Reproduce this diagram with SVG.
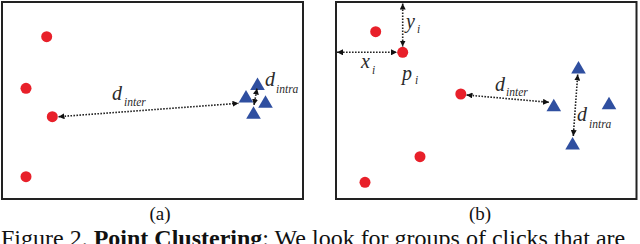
<svg xmlns="http://www.w3.org/2000/svg" width="640" height="244" viewBox="0 0 640 244">
<defs>
<marker id="ah" viewBox="0 0 10 10" refX="10" refY="5" markerWidth="6" markerHeight="6" markerUnits="userSpaceOnUse" orient="auto-start-reverse">
<path d="M0,0 L10,5 L0,10 Z" fill="#111"/>
</marker>
<style>
.frame{fill:#fff;stroke:#222;stroke-width:2}
.dot{fill:#e8202a}
.tri{fill:#2f4fa0}
.conn{fill:none;stroke:#222;stroke-width:1.6;stroke-dasharray:1.6 1.4;marker-start:url(#ah);marker-end:url(#ah)}
text{font-family:'Liberation Serif','Times New Roman','DejaVu Serif',serif}
.lbl{font-style:italic;fill:#2a2a2a}
.big{font-size:20px}
.sub{font-size:11.5px}
.cap{fill:#111}
</style>
</defs>
<rect width="640" height="244" fill="#fff"/>
<g id="panel-a">
<rect class="frame" x="2" y="2" width="301" height="197"/>
<g id="a-dots">
<circle class="dot" cx="46.7" cy="36.7" r="5.5"/>
<circle class="dot" cx="26" cy="88.3" r="5.5"/>
<circle class="dot" cx="52.3" cy="116.7" r="5.5"/>
<circle class="dot" cx="26" cy="176.7" r="5.5"/>
</g>
<g id="a-tris">
<polygon class="tri" points="257.5,77.5 264.8,90 250.2,90"/>
<polygon class="tri" points="246,90 253.3,102.5 238.7,102.5"/>
<polygon class="tri" points="265.5,95.3 272.8,107.8 258.2,107.8"/>
<polygon class="tri" points="253.5,106.3 260.8,118.8 246.2,118.8"/>
</g>
<text class="lbl big" x="112" y="100">d</text>
<text class="lbl sub" x="124" y="106">inter</text>
<text class="lbl big" x="265" y="86">d</text>
<text class="lbl sub" x="276" y="93.3">intra</text>
</g>
<g id="panel-b">
<rect class="frame" x="336" y="2" width="300.5" height="197"/>
<g id="b-dots">
<circle class="dot" cx="375.7" cy="31.7" r="5.5"/>
<circle class="dot" cx="402.7" cy="52.3" r="5.5"/>
<circle class="dot" cx="460.8" cy="94" r="5.5"/>
<circle class="dot" cx="420" cy="156.7" r="5.5"/>
<circle class="dot" cx="365" cy="182.3" r="5.5"/>
</g>
<g id="b-tris">
<polygon class="tri" points="578.5,61 585.8,73.5 571.2,73.5"/>
<polygon class="tri" points="553.8,98.7 561.1,111.2 546.5,111.2"/>
<polygon class="tri" points="609,96.7 616.3,109.2 601.7,109.2"/>
<polygon class="tri" points="572.6,137 579.9,149.5 565.3,149.5"/>
</g>
<text class="lbl big" x="361" y="68">x</text>
<text class="lbl sub" x="372" y="74">i</text>
<text class="lbl big" x="406" y="28">y</text>
<text class="lbl sub" x="417" y="33">i</text>
<text class="lbl big" x="402" y="80">p</text>
<text class="lbl sub" x="415" y="84">i</text>
<text class="lbl big" x="495" y="91">d</text>
<text class="lbl sub" x="506" y="95.7">inter</text>
<text class="lbl big" x="577" y="121">d</text>
<text class="lbl sub" x="589" y="127.7">intra</text>
</g>
<g id="connectors">
<path class="conn" d="M58.5,116.7 L238.5,103.3"/>
<path class="conn" d="M257,88.5 L254,105"/>
<path class="conn" d="M337,52.3 L397,52.3"/>
<path class="conn" d="M402.7,3.5 L402.7,46.5"/>
<path class="conn" d="M466.5,95 L549,102.3"/>
<path class="conn" d="M577.7,74.5 L573.3,136"/>
</g>
<g id="captions">
<text class="cap" x="160" y="220" font-size="19" text-anchor="middle">(a)</text>
<text class="cap" x="480" y="220" font-size="19" text-anchor="middle">(b)</text>
<text class="cap" x="1" y="246" font-size="24">Figure 2. <tspan font-weight="bold">Point Clustering</tspan>: We look for groups of clicks that are</text>
</g>
</svg>
